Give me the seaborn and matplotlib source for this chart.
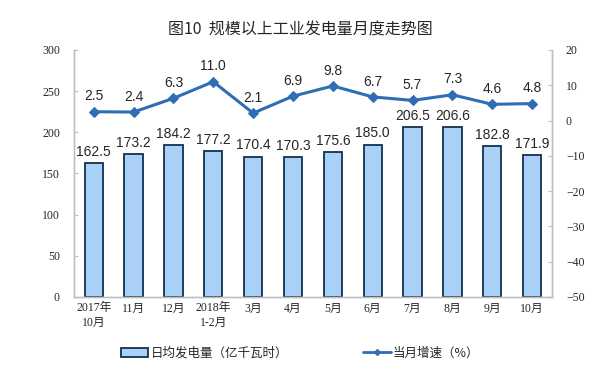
import numpy as np
import pandas as pd
import matplotlib
matplotlib.use("Agg")
import matplotlib.pyplot as plt
import seaborn as sns

# Data
months = ["2017年\n10月", "11月", "12月", "2018年\n1-2月", "3月", "4月",
          "5月", "6月", "7月", "8月", "9月", "10月"]
daily_output = [162.5, 173.2, 184.2, 177.2, 170.4, 170.3,
                175.6, 185.0, 206.5, 206.6, 182.8, 171.9]
growth = [2.5, 2.4, 6.3, 11.0, 2.1, 6.9, 9.8, 6.7, 5.7, 7.3, 4.6, 4.8]
left_ticks = [0, 50, 100, 150, 200, 250, 300]
right_ticks = [-50, -40, -30, -20, -10, 0, 10, 20]

BAR_FILL = "#a9d1f7"
BAR_EDGE = "#13304f"
LINE_COLOR = "#2f6db5"
SPINE = "#bfbfbf"

sns.set_style("white")
plt.rcParams["font.family"] = ["Liberation Sans", "Noto Sans CJK SC"]
TICK_FONT = ["Liberation Serif", "Noto Sans CJK SC"]

df = pd.DataFrame({"month": months, "output": daily_output, "growth": growth})

fig = plt.figure(figsize=(6, 3.73), dpi=100)
ax = fig.add_axes([0.123, 0.204, 0.797, 0.662])

sns.barplot(data=df, x="month", y="output", ax=ax, color=BAR_FILL,
            edgecolor=BAR_EDGE, linewidth=1.3, width=0.46, saturation=1)
ax.bar_label(ax.containers[0], fmt="%.1f", padding=3, fontsize=10)

ax.set_ylim(0, 300)
ax.set_yticks(left_ticks)
ax.set_xlim(-0.5, 11.5)
ax.set_xticks(np.arange(-0.5, 12, 1), minor=True)
ax.set_xlabel("")
ax.set_ylabel("")

ax2 = ax.twinx()
sns.lineplot(x=np.arange(len(growth)), y=df["growth"], ax=ax2, color=LINE_COLOR,
             linewidth=2.2, marker="D", markersize=5, markeredgecolor=LINE_COLOR)
for i, g in enumerate(growth):
    ax2.annotate(f"{g:.1f}", (i, g), xytext=(0, 6), textcoords="offset points",
                 ha="center", va="bottom", fontsize=10)
ax2.set_ylim(-50, 20)
ax2.set_yticks(right_ticks)
ax2.set_ylabel("")

for a in (ax, ax2):
    a.spines["top"].set_visible(False)
    for side in ("left", "right", "bottom"):
        a.spines[side].set_color(SPINE)
        a.spines[side].set_linewidth(1.0)

ax.tick_params(axis="y", direction="in", length=3, color=SPINE, pad=10, labelsize=8.5)
ax.tick_params(axis="x", which="major", length=0, pad=4, labelsize=8.5)
ax.tick_params(axis="x", which="minor", direction="in", length=3, color=SPINE)
ax2.tick_params(axis="y", direction="in", length=3, color=SPINE, pad=10, labelsize=8.5)
for lab in ax.get_xticklabels() + ax.get_yticklabels() + ax2.get_yticklabels():
    lab.set_family(TICK_FONT)
for lab in ax.get_xticklabels():
    lab.set_linespacing(1.3)

fig.suptitle("图10  规模以上工业发电量月度走势图", y=0.92, fontsize=11.5,
             family=["Noto Sans CJK SC", "DejaVu Sans"], fontweight="medium", va="center")

bar_handle = plt.Rectangle((0, 0), 1, 1, facecolor=BAR_FILL, edgecolor=BAR_EDGE, linewidth=1.3)
line_handle = plt.Line2D([], [], color=LINE_COLOR, linewidth=2, marker="D", markersize=3)
fig.legend([bar_handle, line_handle], ["日均发电量（亿千瓦时）", "当月增速（%）"],
           loc="center", bbox_to_anchor=(0.5, 0.053), ncol=2, frameon=False,
           columnspacing=6, handlelength=2.2, handletextpad=0.2,
           prop={"family": ["Noto Sans CJK SC", "DejaVu Sans"], "size": 9})

fig.savefig("out.png", dpi=100)
